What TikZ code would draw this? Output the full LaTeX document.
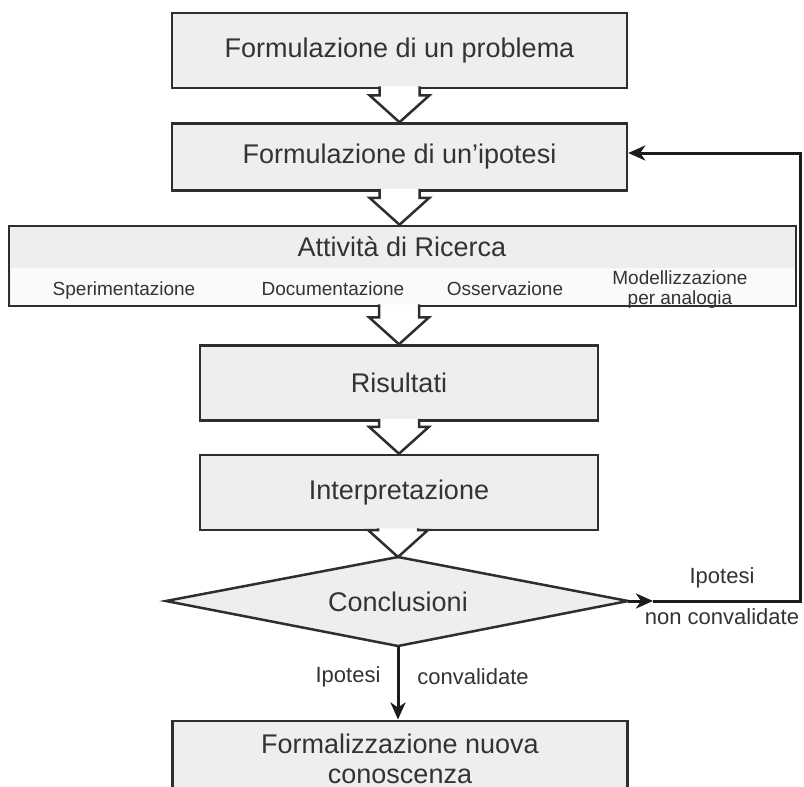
\documentclass[tikz,border=0pt]{standalone}
\usepackage{fontspec}
\setmainfont{Liberation Sans}
\usetikzlibrary{arrows.meta,calc}
\definecolor{bd}{HTML}{2E2E2E}
\definecolor{bx}{HTML}{EEEEEE}
\definecolor{tx}{HTML}{333333}
\definecolor{ln}{HTML}{1C1C1C}
\definecolor{band}{HTML}{FAFAFA}
\tikzset{
  box/.style={draw=bd, fill=bx, line width=2.5pt, minimum width=455pt, minimum height=75pt,
    inner sep=0pt, font=\fontsize{27}{30}\selectfont, text=tx},
  big/.style={font=\fontsize{27}{30}\selectfont, text=tx, inner sep=0pt, align=center},
  small/.style={font=\fontsize{19}{20}\selectfont, text=tx, align=center, inner sep=0pt},
  lbl/.style={font=\fontsize{22}{24}\selectfont, text=tx, inner sep=0pt},
  harrow/.style={draw=bd, fill=white, line width=2.5pt, line join=miter},
  conn/.style={draw=ln, line width=3pt},
  tip/.style={-{Stealth[length=17pt,width=15pt,inset=5pt]}}
}
\newcommand{\blockarrow}[2]{%
  \filldraw[harrow] ($(#1.south -| #2)+(-20,-3)$) -- ($(#2)+(-20,-27)$)
   -- ($(#2)+(-30,-27)$) -- (#2) -- ($(#2)+(30,-27)$)
   -- ($(#2)+(20,-27)$) -- ($(#1.south -| #2)+(20,-3)$);}
\begin{document}
\begin{tikzpicture}[x=1pt,y=-1pt]
\clip (0,0) rectangle (804,787);
\fill[white] (0,0) rectangle (804,787);

\node[box] (b1) at (399.5,50.5) {Formulazione di un problema};
\node[box, minimum height=67pt] (b2) at (399.5,157) {Formulazione di un'ipotesi};
\node[box, minimum width=787pt, minimum height=80pt] (b3) at (402.5,266) {};
\fill[band] (10.5,268) rectangle (794.5,304.7);
\node[big] (t3) at (402,247) {Attività di Ricerca};
\node[small, anchor=base] (s1) at (124,295) {Sperimentazione};
\node[small, anchor=base] (s2) at (333,295) {Documentazione};
\node[small, anchor=base] (s3) at (505,295) {Osservazione};
\node[small, anchor=base] (s4) at (680,304) {Modellizzazione\\per analogia};
\node[box, minimum width=398pt] (b4) at (399,383) {Risultati};
\node[box, minimum width=398pt] (b5) at (399,492.5) {Interpretazione};

% decision diamond
\coordinate (dN) at (398,557);
\coordinate (dE) at (628,601);
\coordinate (dS) at (398,646);
\coordinate (dW) at (166,601);
\filldraw[draw=bd, fill=bx, line width=2.5pt, line join=miter] (dN) -- (dE) -- (dS) -- (dW) -- cycle;
\node[big] (dia) at (398,602) {Conclusioni};

\node[box, minimum height=110pt, anchor=north] (b6) at (400,719.5) {};
\node[big, anchor=base] (t6) at (400,783) {Formalizzazione nuova\\conoscenza};

\blockarrow{b1}{b2.north}
\blockarrow{b2}{b3.north -| b2.north}
\blockarrow{b3}{b4.north}
\blockarrow{b4}{b5.north}
\blockarrow{b5}{dN}

% non convalidate loop
\coordinate (c0) at ($(dE)+(25,0)$);
\coordinate (c1) at (800,601);
\coordinate (c2) at (800,153);
\draw[conn, tip] (dE) -- (c0);
\draw[conn, tip] (c0) -- (c1) -- (c2) -- (b2.east |- c2);
\node[lbl] (l1) at (722,578) {Ipotesi};
\node[lbl] (l2) at (722,617) {non convalidate};

% convalidate
\draw[conn, tip] (dS) -- (b6.north -| dS);
\node[lbl] (l3) at (348,677) {Ipotesi};
\node[lbl] (l4) at (473,677) {convalidate};
\end{tikzpicture}
\end{document}
